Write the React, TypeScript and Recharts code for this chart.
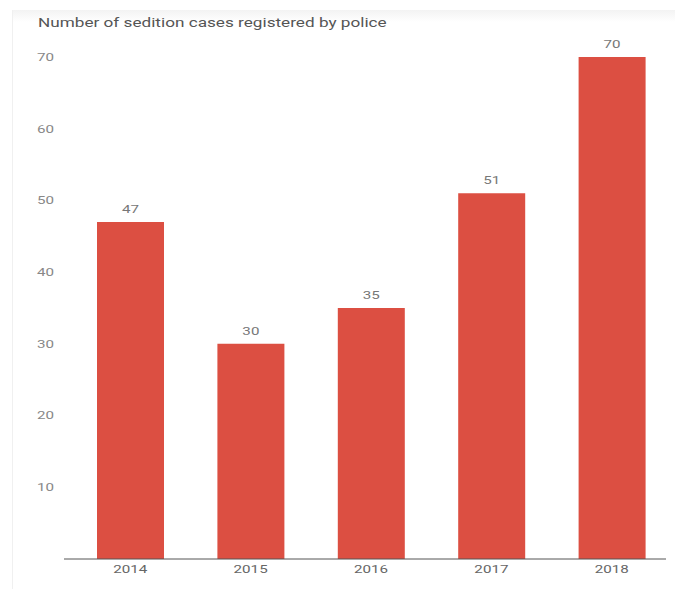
import React from 'react';
import { BarChart, Bar, XAxis, YAxis, LabelList } from 'recharts';

const years = ['2014', '2015', '2016', '2017', '2018'];
const cases = [47, 30, 35, 51, 70];
const yTicks = [10, 20, 30, 40, 50, 60, 70];
const title = 'Number of sedition cases registered by police';

const data = years.map((year, i) => ({ year, cases: cases[i] }));

const STRETCH = 1.38;
const FONT = 'Roboto, "Noto Sans", sans-serif';

const XTick = (props: any) => {
  const { x, y, payload } = props;
  return (
    <g transform={`translate(${x},${y})`}>
      <text transform={`scale(${STRETCH},1)`} textAnchor="middle" dy="0.71em" fontSize={11} fill="#666" fontFamily={FONT}>
        {payload.value}
      </text>
    </g>
  );
};

const YTick = (props: any) => {
  const { x, y, payload } = props;
  return (
    <g transform={`translate(${x},${y})`}>
      <text transform={`scale(${STRETCH},1)`} textAnchor="end" dy="0.355em" fontSize={11} fill="#888" fontFamily={FONT}>
        {payload.value}
      </text>
    </g>
  );
};

const ValueLabel = (props: any) => {
  const { x, y, width, value } = props;
  return (
    <g transform={`translate(${x + width / 2},${y - 9})`}>
      <text transform={`scale(${STRETCH},1)`} textAnchor="middle" fontSize={11} fill="#777" fontFamily={FONT}>
        {value}
      </text>
    </g>
  );
};

export default function App() {
  return (
    <div style={{ position: 'absolute', left: 0, top: 0, width: 675, height: 589, background: '#fff', overflow: 'hidden' }}>
      <div
        style={{
          position: 'absolute',
          left: 12,
          top: 10,
          right: 0,
          bottom: 0,
          borderLeft: '1px solid #f0f0f0',
          background: 'linear-gradient(#f3f3f3 0px, #ffffff 12px)',
        }}
      />
      <div
        style={{
          position: 'absolute',
          left: 38,
          top: 16,
          fontFamily: FONT,
          fontSize: 12,
          lineHeight: '14px',
          color: '#555',
          whiteSpace: 'nowrap',
          transform: 'scale(1.43,1)',
          transformOrigin: 'left center',
        }}
      >
        {title}
      </div>
      <div style={{ position: 'absolute', left: 0, top: 0 }}>
        <BarChart width={675} height={589} data={data} margin={{ top: 57, right: 9, bottom: 0, left: 0 }}>
          <XAxis
            dataKey="year"
            height={30}
            tickLine={false}
            tickSize={0}
            tickMargin={6}
            axisLine={{ stroke: '#555', strokeWidth: 1 }}
            padding={{ left: 6, right: -6 }}
            tick={<XTick />}
            interval={0}
          />
          <YAxis
            width={64}
            domain={[0, 70]}
            ticks={yTicks}
            axisLine={false}
            tickLine={false}
            tickSize={0}
            tickMargin={10}
            tick={<YTick />}
            interval={0}
          />
          <Bar dataKey="cases" fill="#dc4f42" barSize={67} isAnimationActive={false}>
            <LabelList dataKey="cases" content={<ValueLabel />} />
          </Bar>
        </BarChart>
      </div>
    </div>
  );
}
